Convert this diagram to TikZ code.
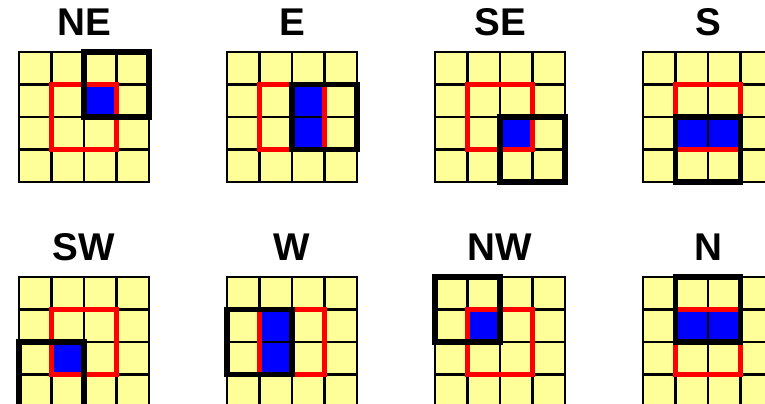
\documentclass[tikz,border=0pt]{standalone}
\usepackage{fontspec}
\setmainfont{Liberation Sans}
\definecolor{cellcolor}{RGB}{255,255,153}
\definecolor{overlapcolor}{RGB}{0,0,255}
\definecolor{centercolor}{RGB}{255,0,0}
\usetikzlibrary{calc}

\begin{document}
\begin{tikzpicture}[x=0.02cm, y=-0.02cm,
  gridline/.style={draw=black, line width=1.5pt},
  centerbox/.style={draw=centercolor, line width=2.5pt},
  movebox/.style={draw=black, line width=2.9pt},
  dirlabel/.style={font=\fontsize{22}{26}\selectfont\bfseries}]
  \useasboundingbox (0,0) rectangle (765,404);
  \foreach \ox/\oy/\dir/\bx/\by in {19/52/NE/2/0, 227/52/E/2/1, 435/52/SE/2/2, 643/52/S/1/2,
                                    19/277/SW/0/2, 227/277/W/0/1, 435/277/NW/0/0, 643/277/N/1/0} {
    % Direction label
    \node[dirlabel] (lbl-\dir) at (\ox+65, \oy-30) {\dir};
    \begin{scope}[shift={(\ox,\oy)}, x=0.65cm, y=-0.65cm]
      % Cells
      \fill[cellcolor] (0,0) rectangle (4,4);
      % Overlap of the two windows
      \fill[overlapcolor] ({max(\bx,1)},{max(\by,1)}) rectangle ({min(\bx+2,3)},{min(\by+2,3)});
      % Grid
      \foreach \k in {1,2,3} {
        \draw[gridline] (\k,0) -- (\k,4);
        \draw[gridline] (0,\k) -- (4,\k);
      }
      \draw[gridline] (0,0) rectangle (4,4);
      % Centre window and moved window
      \draw[centerbox] (1,1) rectangle (3,3);
      \draw[movebox] (\bx,\by) rectangle (\bx+2,\by+2);
    \end{scope}
  }
\end{tikzpicture}
\end{document}
